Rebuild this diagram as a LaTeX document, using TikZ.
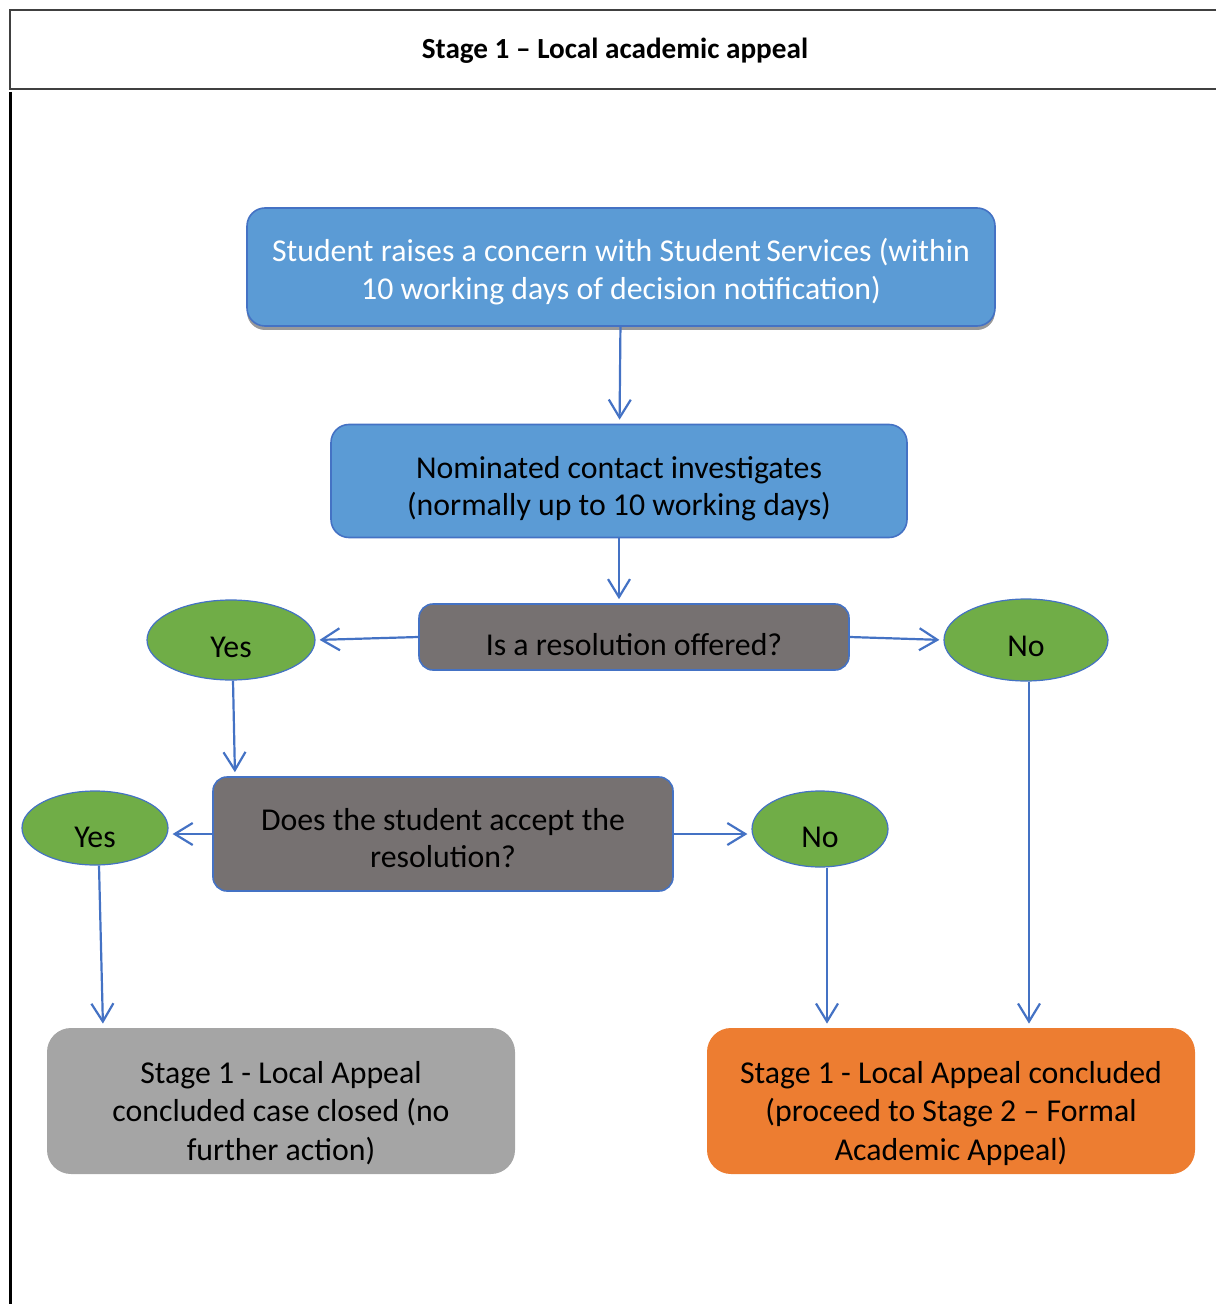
\documentclass[tikz,border=0pt]{standalone}
\usepackage{fontspec}
\setmainfont{Carlito}
\usetikzlibrary{shapes.geometric, positioning, arrows.meta, shadows}
\definecolor{boxblue}{HTML}{5B9BD5}
\definecolor{lineblue}{HTML}{4472C4}
\definecolor{decgray}{HTML}{767171}
\definecolor{yesgreen}{HTML}{70AD47}
\definecolor{endgray}{HTML}{A5A5A5}
\definecolor{endorange}{HTML}{ED7D31}
% text lines of a box, first baseline raised by #1 from the box centre
\newcommand{\flowtext}[2]{\raisebox{#1}[0pt][0pt]{\begin{tabular}[t]{@{}c@{}}#2\end{tabular}}}
\tikzset{
	x=0.5pt, y=-0.5pt, % one unit is one pixel of the layout
	>={Straight Barb[length=9pt,width=11pt]}, % open arrow heads
	flow/.style={->, draw=lineblue, line width=1.1pt, shorten >=2pt}, % the connectors
	every node/.style={font=\fontsize{15.9}{18.6}\selectfont, align=center, inner sep=0pt},
	stepblue/.style={rectangle, rounded corners=9pt, fill=boxblue, draw=lineblue, line width=0.8pt},
	decision/.style={rectangle, rounded corners=7pt, fill=decgray, draw=lineblue, line width=0.8pt},
	answer/.style={ellipse, fill=yesgreen, draw=lineblue, line width=0.6pt},
	outcome/.style={rectangle, rounded corners=12pt, font=\fontsize{15.9}{19.3}\selectfont},
}
\begin{document}
\begin{tikzpicture}
	\useasboundingbox (0,0) rectangle (1216,1304);
	% header frame
	\draw[black!75, line width=1pt] (1216,10) -- (10,10) -- (10,89) -- (1216,89);
	\draw[black, line width=1.5pt] (10,92) -- (10,1304);
	\node[font=\fontsize{14.6}{17}\bfseries] (title) at (615,51) {Stage 1 – Local academic appeal};
	% steps
	\node[stepblue, text=white, minimum width=374pt, minimum height=59pt,
		drop shadow={shadow xshift=0pt, shadow yshift=-2pt, fill=black!40, opacity=1}] (raise) at (621,267)
		{\flowtext{2.5pt}{Student raises a concern with Student\,Services (within\\10 working days of decision notification)}};
	\node[stepblue, minimum width=288pt, minimum height=56.5pt] (investigate) at (619,481)
		{\flowtext{1.5pt}{Nominated contact investigates\\(normally up to 10 working days)}};
	\node[decision, minimum width=215pt, minimum height=33pt] (offered) at (634,637)
		{\flowtext{-9pt}{Is a resolution offered?}};
	\node[answer, minimum width=84pt, minimum height=40pt] (yesA) at (231,640) {\flowtext{-8.5pt}{Yes}};
	\node[answer, minimum width=82pt, minimum height=41pt] (noA) at (1026,640) {\flowtext{-8pt}{No}};
	\node[decision, minimum width=230pt, minimum height=57pt] (accept) at (443,834)
		{\flowtext{1.75pt}{Does the student accept the\\resolution?}};
	\node[answer, minimum width=73pt, minimum height=37pt] (yesB) at (95,828) {\flowtext{-9.5pt}{Yes}};
	\node[answer, minimum width=68pt, minimum height=38pt] (noB) at (820,829) {\flowtext{-9pt}{No}};
	\node[outcome, fill=endgray, minimum width=234pt, minimum height=73pt] (closed) at (281,1101)
		{\flowtext{9pt}{Stage 1 - Local Appeal\\concluded case closed (no\\further action)}};
	\node[outcome, fill=endorange, minimum width=244pt, minimum height=73pt] (formal) at (951,1101)
		{\flowtext{9pt}{Stage 1 - Local Appeal concluded\\(proceed to Stage 2 – Formal\\Academic Appeal)}};
	% connectors
	\draw[flow] (raise) -- (investigate);
	\draw[flow] (investigate) -- (investigate |- offered.north);
	\draw[flow] (offered.west) -- (yesA.east);
	\draw[flow] (offered.east) -- (noA.west);
	\draw[flow] ([xshift=1pt]yesA.south) -- ([xshift=2pt]yesA |- accept.north);
	\draw[flow] (accept.west) -- (yesB.east |- accept.west);
	\draw[flow] (accept.east) -- (noB.west |- accept.east);
	\draw[flow] ([xshift=2pt]yesB.south) -- ([xshift=4pt]yesB |- closed.north);
	\draw[flow] ([xshift=3.5pt]noB.south) -- ([xshift=3.5pt]noB |- formal.north);
	\draw[flow] ([xshift=1.5pt]noA.south) -- ([xshift=1.5pt]noA |- formal.north);
\end{tikzpicture}
\end{document}
